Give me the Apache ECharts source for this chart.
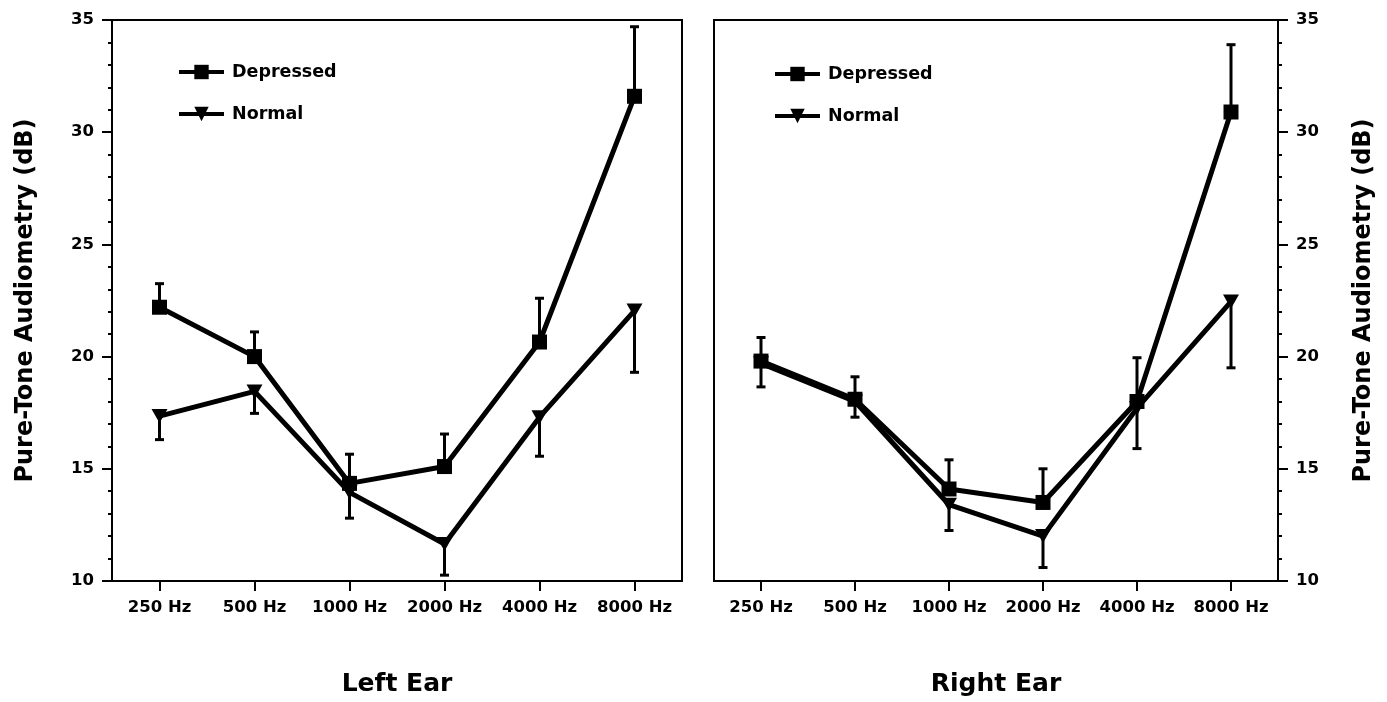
<!DOCTYPE html>
<html>
<head>
<meta charset="utf-8">
<script src="https://cdn.jsdelivr.net/npm/echarts@6/dist/echarts.min.js"></script>
<style>
html,body{margin:0;padding:0;background:#fff;}
#chart{width:1387px;height:702px;}
</style>
</head>
<body>
<div id="chart"></div>
<script>
const categories = ['250 Hz', '500 Hz', '1000 Hz', '2000 Hz', '4000 Hz', '8000 Hz'];
const yTicks = [10, 15, 20, 25, 30, 35];

const leftDepressed = [22.2, 20.0, 14.35, 15.1, 20.65, 31.6];
const leftDepressedErrTop = [23.25, 21.1, 15.65, 16.55, 22.6, 34.7];
const leftNormal = [17.35, 18.45, 13.95, 11.65, 17.3, 22.05];
const leftNormalErrBottom = [16.3, 17.47, 12.8, 10.26, 15.56, 19.3];

const rightDepressed = [19.8, 18.1, 14.1, 13.5, 18.0, 30.9];
const rightDepressedErrTop = [20.85, 19.1, 15.4, 15.0, 19.95, 33.9];
const rightNormal = [19.7, 18.0, 13.4, 12.0, 17.7, 22.45];
const rightNormalErrBottom = [18.65, 17.3, 12.25, 10.6, 15.9, 19.5];

const FONT = 'DejaVu Sans';
const chart = echarts.init(document.getElementById('chart'));

function errData(vals, ends) {
  return vals.map((v, i) => [i, v, ends[i]]);
}
function errSeries(xi, yi, vals, ends) {
  return {
    type: 'custom', xAxisIndex: xi, yAxisIndex: yi, z: 1, silent: true,
    data: errData(vals, ends),
    renderItem: function (params, api) {
      const p1 = api.coord([api.value(0), api.value(1)]);
      const p2 = api.coord([api.value(0), api.value(2)]);
      const style = { stroke: '#000', lineWidth: 3 };
      return {
        type: 'group',
        children: [
          { type: 'line', shape: { x1: p1[0], y1: p1[1], x2: p2[0], y2: p2[1] }, style: style },
          { type: 'line', shape: { x1: p2[0] - 4.5, y1: p2[1], x2: p2[0] + 4.5, y2: p2[1] }, style: style }
        ]
      };
    }
  };
}
function lineSeries(name, xi, yi, data, sym) {
  return {
    name: name, type: 'line', xAxisIndex: xi, yAxisIndex: yi, z: 3,
    data: data,
    symbol: sym === 'sq' ? 'rect' : 'triangle',
    symbolRotate: sym === 'sq' ? 0 : 180,
    symbolSize: sym === 'sq' ? 15 : [16, 14],
    lineStyle: { color: '#000', width: 5 },
    itemStyle: { color: '#000' },
    emphasis: { disabled: true },
    animation: false
  };
}
function xAxis(gi, name) {
  return {
    type: 'category', gridIndex: gi, data: categories, boundaryGap: true,
    name: name, nameLocation: 'middle', nameGap: 91,
    nameTextStyle: { fontFamily: FONT, fontWeight: 'bold', fontSize: 25, color: '#000' },
    axisLine: { show: true, lineStyle: { color: '#000', width: 2 } },
    axisTick: { show: true, alignWithLabel: true, length: 10, lineStyle: { color: '#000', width: 2 } },
    axisLabel: { interval: 0, fontFamily: FONT, fontWeight: 'bold', fontSize: 16.5, color: '#000', margin: 18 },
    splitLine: { show: false }
  };
}
function yAxis(gi, pos) {
  return {
    type: 'value', gridIndex: gi, position: pos, min: 10, max: 35, interval: 5,
    name: 'Pure-Tone Audiometry (dB)', nameLocation: 'middle', nameGap: 74,
    nameRotate: 90,
    nameTextStyle: { fontFamily: FONT, fontWeight: 'bold', fontSize: 24, color: '#000' },
    axisLine: { show: true, lineStyle: { color: '#000', width: 2 } },
    axisTick: { show: true, length: 10, lineStyle: { color: '#000', width: 2 } },
    minorTick: { show: true, splitNumber: 5, length: 4, lineStyle: { color: '#000', width: 2 } },
    axisLabel: { fontFamily: FONT, fontWeight: 'bold', fontSize: 16.5, color: '#000', margin: 18,
      formatter: function (v) { return yTicks.indexOf(v) >= 0 ? String(v) : ''; } },
    splitLine: { show: false }
  };
}
function legend(left, top) {
  return {
    left: left, top: top, orient: 'vertical', itemWidth: 45, itemHeight: 18, itemGap: 22,
    data: ['Depressed', 'Normal'], selectedMode: false,
    lineStyle: { width: 4, color: '#000' },
    itemStyle: { color: '#000' },
    textStyle: { fontFamily: FONT, fontWeight: 'bold', fontSize: 17.5, color: '#000', lineHeight: 20, padding: [0, 0, 0, 3] }
  };
}

chart.setOption({
  animation: false,
  backgroundColor: '#fff',
  grid: [
    { left: 112, right: 705, top: 20, bottom: 116, show: true, borderColor: '#000', borderWidth: 2, backgroundColor: 'transparent' },
    { left: 714, right: 109, top: 20, bottom: 116, show: true, borderColor: '#000', borderWidth: 2, backgroundColor: 'transparent' }
  ],
  legend: [legend(172, 57), legend(768, 59)],
  xAxis: [xAxis(0, 'Left Ear'), xAxis(1, 'Right Ear')],
  yAxis: [yAxis(0, 'left'), yAxis(1, 'right')],
  series: [
    errSeries(0, 0, leftDepressed, leftDepressedErrTop),
    errSeries(0, 0, leftNormal, leftNormalErrBottom),
    errSeries(1, 1, rightDepressed, rightDepressedErrTop),
    errSeries(1, 1, rightNormal, rightNormalErrBottom),
    lineSeries('Depressed', 0, 0, leftDepressed, 'sq'),
    lineSeries('Normal', 0, 0, leftNormal, 'tri'),
    lineSeries('Depressed', 1, 1, rightDepressed, 'sq'),
    lineSeries('Normal', 1, 1, rightNormal, 'tri')
  ]
});
</script>
</body>
</html>
